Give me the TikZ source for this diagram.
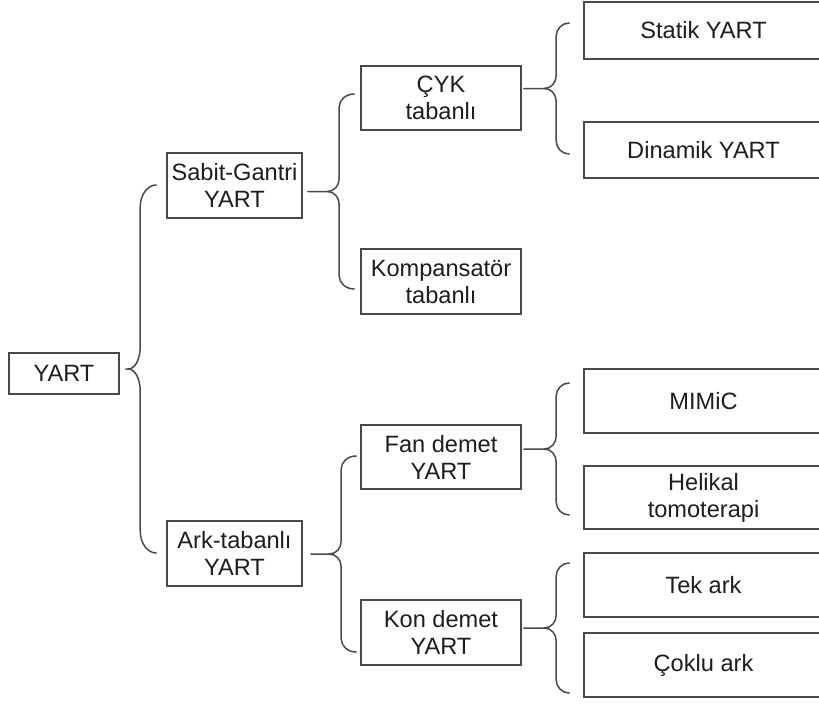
\documentclass[tikz,border=0pt]{standalone}
\usepackage{fontspec}
\setmainfont{Liberation Sans}
\usetikzlibrary{calc}
\definecolor{ln}{HTML}{4A4A4A}
\definecolor{tx}{HTML}{1E1E1E}
\tikzset{
  box/.style={draw=ln, line width=1.6pt, inner sep=0pt, align=center, text=tx,
    font=\fontsize{23.6}{27}\selectfont},
  brc/.style={draw=ln, line width=1.5pt, line join=round, line cap=round}
}
% #1 parent, #2 top child, #3 bottom child, #4 top y, #5 bottom y,
% #6 start gap, #7 end gap, #8 spine depth, #9 radius
\newcommand\ybr[9]{%
  \coordinate (#1-t) at ($(#1.east |- 0,{(#4+#5)/2})+(#6,0)$);
  \coordinate (#2-e) at ($(#2.west |- 0,#4)+(-#7,0)$);
  \coordinate (#3-e) at ($(#3.west |- 0,#5)+(-#7,0)$);
  \coordinate (#1-k) at ($(#2-e |- #1-t)+(-#8-12,0)$);
  \draw[brc] (#1-t) -- (#1-k)
    .. controls +(7,0) and +(0,0.55*#9) .. ($(#2-e |- #1-t)+(-#8,-#9)$)
    -- ($(#2-e)+(-#8,#9)$) .. controls +(0,-0.55*#9) and +(-0.55*#8,0) .. (#2-e);
  \draw[brc] (#1-k)
    .. controls +(7,0) and +(0,-0.55*#9) .. ($(#2-e |- #1-t)+(-#8,#9)$)
    -- ($(#3-e)+(-#8,-#9)$) .. controls +(0,0.55*#9) and +(-0.55*#8,0) .. (#3-e);
}
\begin{document}
\begin{tikzpicture}[x=1pt,y=-1pt]
\fill[white] (0,0) rectangle (819,704);
\useasboundingbox (0,0) rectangle (819,704);
% level 0
\node[box, minimum width=110pt, minimum height=41pt] (yart) at (64,373.5) {YART};
% level 1
\node[box, minimum width=135pt, minimum height=65pt] (sabit) at (234.5,185.5) {Sabit-Gantri\\YART};
\node[box, minimum width=135pt, minimum height=65pt] (ark) at (234.5,553.5) {Ark-tabanlı\\YART};
% level 2
\node[box, minimum width=160pt, minimum height=64pt] (cyk) at (441,98) {ÇYK\\tabanlı};
\node[box, minimum width=160pt, minimum height=65pt] (komp) at (441,281.5) {Kompansatör\\tabanlı};
\node[box, minimum width=160pt, minimum height=64pt] (fan) at (441,457) {Fan demet\\YART};
\node[box, minimum width=160pt, minimum height=65pt] (kon) at (441,632.5) {Kon demet\\YART};
% level 3
\node[box, minimum width=239pt, minimum height=57pt] (statik) at (703.5,30.5) {Statik YART};
\node[box, minimum width=239pt, minimum height=56pt] (dinamik) at (703.5,150) {Dinamik YART};
\node[box, minimum width=239pt, minimum height=64pt] (mimic) at (703.5,401) {MIMiC};
\node[box, minimum width=239pt, minimum height=63pt] (helikal) at (703.5,497.5) {Helikal\\tomoterapi};
\node[box, minimum width=239pt, minimum height=64pt] (tek) at (703.5,585) {Tek ark};
\node[box, minimum width=239pt, minimum height=64pt] (coklu) at (703.5,665) {Çoklu ark};
% braces
\ybr{yart}{sabit}{ark}{185}{553}{6}{10}{16}{22}
\ybr{sabit}{cyk}{komp}{94}{289}{5}{6}{15}{13}
\ybr{cyk}{statik}{dinamik}{23}{154}{2}{14}{13}{13}
\ybr{ark}{fan}{kon}{456}{652}{8}{4}{15}{13}
\ybr{fan}{mimic}{helikal}{383}{515}{2}{14}{13}{13}
\ybr{kon}{tek}{coklu}{563}{693}{2}{14}{13}{13}
\end{tikzpicture}
\end{document}
